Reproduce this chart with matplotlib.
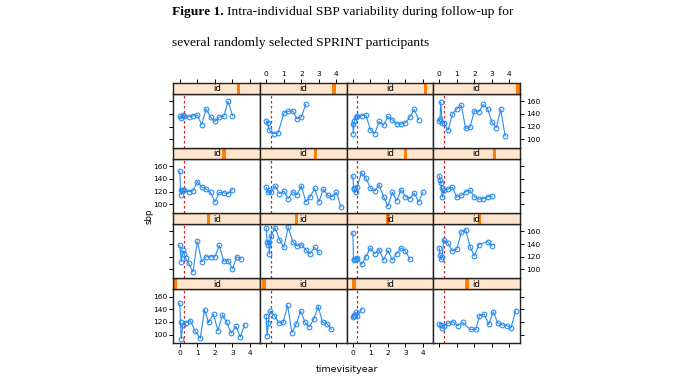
"""
Lattice-style panel plot: SBP over follow-up time for 16 SPRINT participants.
Writes out.png (690x388).
"""

import matplotlib.pyplot as plt
from matplotlib.patches import Rectangle

# ── Data (lattice order: panel 1 is bottom-left, then left→right, upward) ─────

t_p01 = [0, 0.04, 0.08, 0.17, 0.33, 0.6, 0.88, 1.17, 1.41, 1.64, 1.92, 2.17,
         2.43, 2.68, 2.93, 3.2, 3.44, 3.69]
sbp_p01 = [149, 119, 93, 115, 118, 122, 105, 94, 139, 119, 132, 106, 131, 119,
           102, 113, 96, 115]

t_p02 = [0, 0.04, 0.12, 0.21, 0.46, 0.73, 0.96, 1.21, 1.46, 1.71, 1.96, 2.21,
         2.46, 2.71, 2.96, 3.21, 3.46, 3.71]
sbp_p02 = [130, 98, 118, 137, 130, 118, 119, 146, 103, 117, 137, 119, 112, 125,
           144, 119, 117, 108]

t_p03 = [0, 0.04, 0.08, 0.17, 0.25, 0.5]
sbp_p03 = [128, 131, 130, 135, 129, 139]

t_p04 = [0, 0.08, 0.17, 0.25, 0.5, 0.8, 1.05, 1.33, 1.78, 2.08, 2.29, 2.56,
         2.82, 3.08, 3.33, 3.6, 3.85, 4.08, 4.35]
sbp_p04 = [116, 115, 111, 113, 118, 120, 114, 119, 108, 108, 130, 132, 116,
           136, 118, 115, 114, 110, 137]

t_p05 = [0, 0.08, 0.17, 0.25, 0.33, 0.5, 0.75, 1.0, 1.25, 1.5, 1.75, 2.0,
         2.25, 2.5, 2.75, 3.0, 3.25, 3.5]
sbp_p05 = [138, 112, 130, 124, 118, 110, 96, 145, 112, 120, 120, 120, 138, 113,
           114, 101, 120, 116]

t_p06 = [0, 0.04, 0.08, 0.13, 0.17, 0.25, 0.5, 0.75, 1.0, 1.25, 1.5, 1.75,
         2.0, 2.25, 2.5, 2.75, 3.0]
sbp_p06 = [165, 144, 139, 144, 124, 152, 166, 147, 135, 167, 144, 137, 139,
           131, 125, 135, 127]

t_p07 = [0, 0.04, 0.08, 0.17, 0.25, 0.5, 0.75, 1.0, 1.25, 1.5, 1.75, 2.0,
         2.25, 2.5, 2.75, 3.0, 3.25]
sbp_p07 = [158, 115, 117, 116, 118, 108, 120, 134, 125, 131, 115, 130, 115,
           125, 134, 129, 116]

t_p08 = [0, 0.04, 0.08, 0.17, 0.25, 0.5, 0.75, 1.0, 1.25, 1.5, 1.75, 2.0,
         2.25, 2.75, 3.0]
sbp_p08 = [134, 122, 117, 120, 147, 141, 129, 132, 159, 163, 136, 121, 139,
           144, 137]

t_p09 = [0, 0.04, 0.08, 0.17, 0.25, 0.5, 0.75, 1.0, 1.25, 1.5, 1.75, 2.0,
         2.25, 2.5, 2.75, 3.0]
sbp_p09 = [152, 122, 115, 122, 123, 120, 121, 136, 127, 124, 119, 104, 119,
           118, 117, 123]

t_p10 = [0, 0.08, 0.17, 0.25, 0.5, 0.75, 1.0, 1.25, 1.5, 1.75, 2.0, 2.25,
         2.5, 2.75, 3.0, 3.25, 3.5, 3.75, 4.0, 4.25]
sbp_p10 = [127, 119, 122, 119, 129, 117, 121, 109, 120, 115, 129, 104, 112,
           125, 104, 124, 114, 112, 119, 96]

t_p11 = [0, 0.04, 0.08, 0.17, 0.25, 0.5, 0.75, 1.0, 1.25, 1.5, 1.75, 2.0,
         2.25, 2.5, 2.75, 3.0, 3.25, 3.5, 3.75, 4.0]
sbp_p11 = [145, 126, 124, 119, 128, 150, 141, 126, 121, 131, 112, 97, 119,
           106, 123, 112, 109, 118, 104, 119]

t_p12 = [0, 0.04, 0.08, 0.13, 0.17, 0.25, 0.5, 0.75, 1.0, 1.25, 1.5, 1.75,
         2.0, 2.25, 2.5, 2.75, 3.0]
sbp_p12 = [145, 139, 134, 125, 111, 122, 124, 127, 111, 114, 120, 122, 112,
           108, 109, 112, 113]

t_p13 = [0, 0.08, 0.17, 0.25, 0.5, 0.75, 1.0, 1.25, 1.5, 1.75, 2.0, 2.25,
         2.5, 2.75, 3.0]
sbp_p13 = [136, 134, 138, 137, 135, 137, 138, 123, 148, 135, 128, 135, 136,
           160, 137]

t_p14 = [0, 0.08, 0.17, 0.42, 0.67, 1.0, 1.25, 1.5, 1.75, 2.0, 2.25]
sbp_p14 = [129, 126, 114, 109, 110, 141, 144, 145, 132, 135, 155]

t_p15 = [0, 0.03, 0.08, 0.17, 0.25, 0.5, 0.75, 1.0, 1.25, 1.5, 1.75, 2.0,
         2.25, 2.5, 2.75, 3.0, 3.25, 3.5, 3.75]
sbp_p15 = [124, 109, 128, 135, 136, 137, 138, 115, 109, 128, 122, 136, 131,
           124, 124, 126, 135, 147, 131]

t_p16 = [0, 0.04, 0.08, 0.17, 0.25, 0.5, 0.75, 1.0, 1.25, 1.5, 1.75, 2.0,
         2.25, 2.5, 2.75, 3.0, 3.25, 3.5, 3.75]
sbp_p16 = [128, 132, 158, 125, 126, 114, 140, 148, 154, 117, 119, 145, 143,
           155, 148, 127, 118, 147, 105]

# relative position of each participant id in the strip (0..1)
id_pos = [0.0, 0.03, 0.07, 0.39, 0.40, 0.42, 0.48, 0.54,
          0.59, 0.65, 0.69, 0.72, 0.76, 0.87, 0.93, 1.0]

panel_t = [t_p01, t_p02, t_p03, t_p04, t_p05, t_p06, t_p07, t_p08,
           t_p09, t_p10, t_p11, t_p12, t_p13, t_p14, t_p15, t_p16]
panel_sbp = [sbp_p01, sbp_p02, sbp_p03, sbp_p04, sbp_p05, sbp_p06, sbp_p07,
             sbp_p08, sbp_p09, sbp_p10, sbp_p11, sbp_p12, sbp_p13, sbp_p14,
             sbp_p15, sbp_p16]

x_ticks = [0, 1, 2, 3, 4]
y_ticks = [100, 120, 140, 160]
ref_line = 0.25

# ── Layout (pixel geometry of the lattice) ────────────────────────────────────

W, H = 690, 388
COL_X = [173.5, 260, 346.5, 433, 519.5]
TOP, ROW_H, STRIP_H = 83, 65.1, 10.6
XLIM = (-0.36, 4.57)
YLIM = (86, 172)

BLUE = "#2a8cf0"
STRIP_BG = "#ffe5cc"
STRIP_BAR = "#ff7f00"
EDGE = "#222222"
TICK_FS = 5.4


def box(x0, y0, x1, y1):
    """Pixel box (top-left origin) -> figure fraction rect."""
    return [x0 / W, 1 - y1 / H, (x1 - x0) / W, (y1 - y0) / H]


fig = plt.figure(figsize=(W / 100, H / 100), dpi=100)
fig.patch.set_facecolor("white")

for p in range(16):
    col = p % 4
    row = 3 - p // 4          # 0 = top row
    x0, x1 = COL_X[col], COL_X[col + 1]
    ys = TOP + row * ROW_H
    yb = ys + STRIP_H
    ye = TOP + (row + 1) * ROW_H

    ax = fig.add_axes(box(x0, yb, x1, ye))
    st = fig.add_axes(box(x0, ys, x1, yb))

    # panel body
    ax.axvline(ref_line, color="#d02020", lw=0.9, ls=(0, (2, 2)), zorder=1)
    ax.plot(panel_t[p], panel_sbp[p], color=BLUE, lw=0.8, marker="o",
            ms=3.4, mfc="none", mec=BLUE, mew=0.8, zorder=2)
    ax.set_xlim(*XLIM)
    ax.set_ylim(*YLIM)
    ax.set_xticks(x_ticks)
    ax.set_yticks(y_ticks)
    ax.tick_params(direction="out", length=3, width=0.7, pad=1.5,
                   labelsize=TICK_FS, colors="black",
                   bottom=(row == 3), labelbottom=(row == 3 and col in (0, 2)),
                   top=False, labeltop=False,
                   left=(col == 0), labelleft=(col == 0 and row in (1, 3)),
                   right=(col == 3), labelright=(col == 3 and row in (0, 2)))

    # strip
    st.set_facecolor(STRIP_BG)
    st.set_xlim(*XLIM)
    st.set_ylim(0, 1)
    bw = 0.04
    st.add_patch(Rectangle((id_pos[p] * (1 - bw), 0), bw, 1,
                           transform=st.transAxes, color=STRIP_BAR, lw=0))
    st.text(0.5, 0.45, "id", transform=st.transAxes, ha="center",
            va="center", fontsize=6.2)
    st.set_yticks([])
    st.set_xticks(x_ticks)
    st.tick_params(direction="out", length=3, width=0.7, pad=1.5,
                   labelsize=TICK_FS, colors="black",
                   bottom=False, labelbottom=False,
                   top=(row == 0), labeltop=(row == 0 and col in (1, 3)))

    for a in (ax, st):
        for sp in a.spines.values():
            sp.set_color(EDGE)
            sp.set_linewidth(1.0)

# axis labels
fig.text(149 / W, 1 - 216 / H, "sbp", rotation=90, ha="center", va="center",
         fontsize=6.2)
fig.text(347 / W, 1 - 370 / H, "timevisityear", ha="center", va="center",
         fontsize=6.8)

# caption above the lattice
serif = "Liberation Serif"
cap_fs = 9.7
t1 = fig.text(172 / W, 1 - 12 / H, "Figure 1.", family=serif, fontsize=cap_fs,
              fontweight="bold", ha="left", va="center")
fig.canvas.draw()
ext = t1.get_window_extent()
fig.text((ext.x1 + 3) / W, 1 - 12 / H,
         "Intra-individual SBP variability during follow-up for",
         family=serif, fontsize=cap_fs, ha="left", va="center")
fig.text(172 / W, 1 - 43 / H, "several randomly selected SPRINT participants",
         family=serif, fontsize=cap_fs, ha="left", va="center")

fig.savefig("out.png", dpi=100)
